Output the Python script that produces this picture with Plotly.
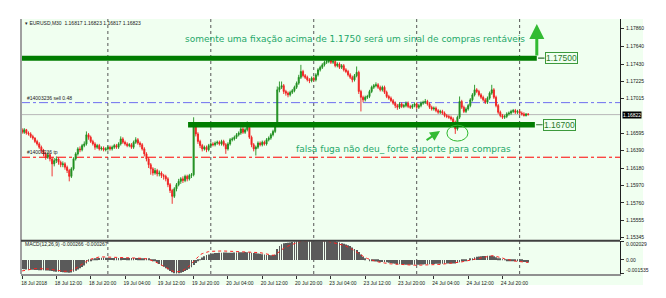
import plotly.graph_objects as go

# ---------------- data ----------------
date_labels = ['18 Jul 2018', '18 Jul 12:00', '18 Jul 20:00', '19 Jul 04:00', '19 Jul 12:00',
               '19 Jul 20:00', '20 Jul 04:00', '20 Jul 12:00', '20 Jul 20:00', '23 Jul 04:00',
               '23 Jul 12:00', '23 Jul 20:00', '24 Jul 04:00', '24 Jul 12:00', '24 Jul 20:00']
label_bars = [0, 16, 32, 48, 64, 80, 96, 112, 128, 144, 160, 176, 192, 208, 224]
day_start_bars = [40, 88, 136, 184, 232]

price_ticks = [1.17860, 1.17640, 1.17430, 1.17225, 1.17015, 1.16595, 1.16390,
               1.16180, 1.15970, 1.15760, 1.15555, 1.15345]

opens = [
1.1664,1.1661,1.1664,1.1660,1.1659,1.1656,1.1654,1.1650,1.1647,1.1643,
1.1639,1.1635,1.1631,1.1634,1.1629,1.1623,1.1627,1.1629,1.1625,1.1622,
1.1623,1.1619,1.1615,1.1608,1.1617,1.1629,1.1635,1.1641,1.1640,1.1645,
1.1647,1.1658,1.1655,1.1650,1.1647,1.1643,1.1645,1.1641,1.1642,1.1640,
1.1641,1.1643,1.1641,1.1643,1.1645,1.1643,1.1647,1.1653,1.1649,1.1647,
1.1645,1.1646,1.1643,1.1649,1.1652,1.1648,1.1646,1.1641,1.1635,1.1629,
1.1622,1.1617,1.1612,1.1615,1.1611,1.1612,1.1609,1.1608,1.1605,1.1598,
1.1591,1.1584,1.1593,1.1598,1.1602,1.1605,1.1603,1.1608,1.1605,1.1609,
1.1610,1.1670,1.1659,1.1650,1.1645,1.1641,1.1643,1.1640,1.1645,1.1647,
1.1646,1.1648,1.1649,1.1647,1.1650,1.1646,1.1641,1.1647,1.1652,1.1653,
1.1655,1.1658,1.1660,1.1665,1.1661,1.1664,1.1667,1.1655,1.1646,1.1641,
1.1643,1.1648,1.1646,1.1649,1.1647,1.1652,1.1654,1.1658,1.1662,1.1670,
1.1712,1.1715,1.1717,1.1710,1.1708,1.1706,1.1709,1.1711,1.1715,1.1720,
1.1727,1.1734,1.1729,1.1727,1.1724,1.1723,1.1726,1.1724,1.1730,1.1736,
1.1739,1.1742,1.1745,1.1746,1.1748,1.1745,1.1746,1.1741,1.1743,1.1739,
1.1741,1.1736,1.1734,1.1730,1.1727,1.1724,1.1729,1.1733,1.1710,1.1703,
1.1700,1.1703,1.1704,1.1710,1.1715,1.1717,1.1718,1.1715,1.1712,1.1715,
1.1709,1.1704,1.1702,1.1699,1.1696,1.1693,1.1691,1.1695,1.1692,1.1693,
1.1696,1.1692,1.1691,1.1693,1.1695,1.1691,1.1693,1.1696,1.1697,1.1698,
1.1695,1.1691,1.1689,1.1690,1.1687,1.1685,1.1686,1.1684,1.1681,1.1680,
1.1679,1.1677,1.1673,1.1665,1.1679,1.1698,1.1691,1.1686,1.1689,1.1693,
1.1700,1.1706,1.1712,1.1710,1.1706,1.1703,1.1700,1.1697,1.1702,1.1708,
1.1712,1.1703,1.1693,1.1685,1.1681,1.1679,1.1680,1.1683,1.1684,1.1686,
1.1687,1.1685,1.1686,1.1684,1.1683,1.1681,1.1683]

highs = [
1.1666,1.1666,1.1665,1.1662,1.1661,1.1658,1.1655,1.1652,1.1649,1.1645,
1.1641,1.1637,1.1637,1.1636,1.1631,1.1630,1.1632,1.1631,1.1627,1.1626,
1.1625,1.1621,1.1617,1.1619,1.1631,1.1637,1.1643,1.1644,1.1647,1.1650,
1.1662,1.1660,1.1657,1.1652,1.1649,1.1647,1.1647,1.1644,1.1644,1.1643,
1.1645,1.1645,1.1645,1.1647,1.1647,1.1649,1.1656,1.1655,1.1651,1.1649,
1.1648,1.1648,1.1651,1.1655,1.1654,1.1650,1.1648,1.1643,1.1637,1.1631,
1.1624,1.1619,1.1618,1.1617,1.1615,1.1614,1.1611,1.1610,1.1607,1.1600,
1.1593,1.1595,1.1600,1.1605,1.1607,1.1608,1.1610,1.1610,1.1611,1.1612,
1.1679,1.1673,1.1661,1.1652,1.1647,1.1645,1.1645,1.1647,1.1649,1.1649,
1.1650,1.1651,1.1651,1.1652,1.1652,1.1648,1.1649,1.1654,1.1655,1.1657,
1.1660,1.1662,1.1667,1.1667,1.1666,1.1674,1.1669,1.1657,1.1648,1.1645,
1.1650,1.1650,1.1651,1.1651,1.1654,1.1656,1.1660,1.1664,1.1672,1.1716,
1.1722,1.1722,1.1719,1.1712,1.1710,1.1711,1.1713,1.1717,1.1722,1.1730,
1.1742,1.1736,1.1731,1.1729,1.1726,1.1728,1.1728,1.1732,1.1738,1.1741,
1.1744,1.1747,1.1749,1.1752,1.1750,1.1748,1.1748,1.1745,1.1745,1.1743,
1.1743,1.1738,1.1736,1.1732,1.1729,1.1731,1.1740,1.1735,1.1712,1.1705,
1.1705,1.1706,1.1712,1.1717,1.1719,1.1721,1.1720,1.1717,1.1717,1.1717,
1.1711,1.1706,1.1704,1.1701,1.1698,1.1695,1.1697,1.1697,1.1695,1.1698,
1.1698,1.1694,1.1695,1.1697,1.1697,1.1695,1.1698,1.1699,1.1701,1.1700,
1.1697,1.1693,1.1692,1.1692,1.1689,1.1688,1.1688,1.1686,1.1683,1.1682,
1.1681,1.1679,1.1675,1.1681,1.1704,1.1700,1.1693,1.1691,1.1695,1.1702,
1.1708,1.1718,1.1714,1.1712,1.1708,1.1705,1.1702,1.1704,1.1710,1.1718,
1.1714,1.1705,1.1695,1.1687,1.1683,1.1682,1.1685,1.1686,1.1688,1.1689,
1.1689,1.1688,1.1688,1.1686,1.1685,1.1684,1.1684]

lows = [
1.1659,1.1659,1.1658,1.1657,1.1654,1.1652,1.1648,1.1645,1.1641,1.1636,
1.1632,1.1628,1.1629,1.1626,1.1608,1.1620,1.1624,1.1622,1.1619,1.1619,
1.1616,1.1612,1.1602,1.1606,1.1615,1.1627,1.1633,1.1637,1.1638,1.1643,
1.1645,1.1652,1.1648,1.1645,1.1640,1.1641,1.1639,1.1639,1.1638,1.1638,
1.1639,1.1639,1.1639,1.1641,1.1641,1.1641,1.1645,1.1647,1.1645,1.1643,
1.1643,1.1641,1.1641,1.1647,1.1646,1.1643,1.1639,1.1632,1.1626,1.1618,
1.1610,1.1609,1.1610,1.1608,1.1608,1.1606,1.1604,1.1602,1.1595,1.1588,
1.1575,1.1582,1.1590,1.1596,1.1599,1.1600,1.1601,1.1602,1.1603,1.1606,
1.1608,1.1656,1.1647,1.1642,1.1638,1.1639,1.1637,1.1638,1.1643,1.1644,
1.1644,1.1646,1.1645,1.1645,1.1644,1.1635,1.1639,1.1645,1.1650,1.1651,
1.1653,1.1656,1.1658,1.1659,1.1659,1.1662,1.1653,1.1643,1.1638,1.1633,
1.1641,1.1644,1.1644,1.1645,1.1645,1.1650,1.1652,1.1656,1.1660,1.1668,
1.1709,1.1713,1.1707,1.1705,1.1703,1.1704,1.1707,1.1709,1.1713,1.1718,
1.1725,1.1727,1.1725,1.1722,1.1720,1.1721,1.1722,1.1722,1.1728,1.1734,
1.1737,1.1740,1.1743,1.1744,1.1743,1.1743,1.1739,1.1739,1.1737,1.1737,
1.1734,1.1732,1.1728,1.1725,1.1721,1.1722,1.1727,1.1707,1.1686,1.1697,
1.1698,1.1701,1.1702,1.1708,1.1713,1.1715,1.1713,1.1710,1.1710,1.1707,
1.1702,1.1700,1.1697,1.1694,1.1690,1.1688,1.1689,1.1690,1.1690,1.1691,
1.1690,1.1689,1.1689,1.1691,1.1689,1.1689,1.1691,1.1694,1.1695,1.1693,
1.1689,1.1687,1.1687,1.1685,1.1683,1.1683,1.1682,1.1679,1.1678,1.1677,
1.1675,1.1671,1.1659,1.1663,1.1677,1.1689,1.1684,1.1684,1.1687,1.1691,
1.1698,1.1704,1.1708,1.1704,1.1701,1.1698,1.1695,1.1695,1.1700,1.1706,
1.1701,1.1691,1.1683,1.1679,1.1677,1.1677,1.1678,1.1681,1.1682,1.1684,
1.1683,1.1683,1.1682,1.1681,1.1680,1.1680,1.1681]

closes = [
1.1661,1.1664,1.1660,1.1659,1.1656,1.1654,1.1650,1.1647,1.1643,1.1639,
1.1635,1.1631,1.1634,1.1629,1.1623,1.1627,1.1629,1.1625,1.1622,1.1623,
1.1619,1.1615,1.1608,1.1617,1.1629,1.1635,1.1641,1.1640,1.1645,1.1647,
1.1658,1.1655,1.1650,1.1647,1.1643,1.1645,1.1641,1.1642,1.1640,1.1641,
1.1643,1.1641,1.1643,1.1645,1.1643,1.1647,1.1653,1.1649,1.1647,1.1645,
1.1646,1.1643,1.1649,1.1652,1.1648,1.1646,1.1641,1.1635,1.1629,1.1622,
1.1617,1.1612,1.1615,1.1611,1.1612,1.1609,1.1608,1.1605,1.1598,1.1591,
1.1584,1.1593,1.1598,1.1602,1.1605,1.1603,1.1608,1.1605,1.1609,1.1610,
1.1670,1.1659,1.1650,1.1645,1.1641,1.1643,1.1640,1.1645,1.1647,1.1646,
1.1648,1.1649,1.1647,1.1650,1.1646,1.1641,1.1647,1.1652,1.1653,1.1655,
1.1658,1.1660,1.1665,1.1661,1.1664,1.1667,1.1655,1.1646,1.1641,1.1643,
1.1648,1.1646,1.1649,1.1647,1.1652,1.1654,1.1658,1.1662,1.1670,1.1712,
1.1715,1.1717,1.1710,1.1708,1.1706,1.1709,1.1711,1.1715,1.1720,1.1727,
1.1734,1.1729,1.1727,1.1724,1.1723,1.1726,1.1724,1.1730,1.1736,1.1739,
1.1742,1.1745,1.1746,1.1748,1.1745,1.1746,1.1741,1.1743,1.1739,1.1741,
1.1736,1.1734,1.1730,1.1727,1.1724,1.1729,1.1733,1.1710,1.1703,1.1700,
1.1703,1.1704,1.1710,1.1715,1.1717,1.1718,1.1715,1.1712,1.1715,1.1709,
1.1704,1.1702,1.1699,1.1696,1.1693,1.1691,1.1695,1.1692,1.1693,1.1696,
1.1692,1.1691,1.1693,1.1695,1.1691,1.1693,1.1696,1.1697,1.1698,1.1695,
1.1691,1.1689,1.1690,1.1687,1.1685,1.1686,1.1684,1.1681,1.1680,1.1679,
1.1677,1.1673,1.1665,1.1679,1.1698,1.1691,1.1686,1.1689,1.1693,1.1700,
1.1706,1.1712,1.1710,1.1706,1.1703,1.1700,1.1697,1.1702,1.1708,1.1712,
1.1703,1.1693,1.1685,1.1681,1.1679,1.1680,1.1683,1.1684,1.1686,1.1687,
1.1685,1.1686,1.1684,1.1683,1.1681,1.1683,1.16823]

# MACD(12,26,9) main line and signal, in units of 1e-5
macd_main_e5 = [
-100,-102,-104,-105,-106,-108,-110,-110,-112,-113,-114,-115,-116,-118,
-122,-125,-128,-130,-132,-134,-136,-138,-140,-138,
-128,-118,-105,-92,-78,-60,-40,
-20,-5,5,12,18,22,24,25,
24,23,22,22,21,21,20,21,22,22,21,20,20,21,22,21,20,18,16,13,10,
5,-5,-15,-30,
-45,-60,-75,-90,-105,-120,-135,-145,-148,-145,-140,-132,-122,-110,
-95,-80,-55,-35,-15,5,
25,40,52,60,66,70,
74,76,78,79,80,80,79,78,79,80,81,82,83,84,85,84,82,78,74,72,70,66,62,58,
54,52,50,52,56,
120,150,170,180,
185,188,190,195,200,205,212,218,220,222,220,218,216,215,214,215,216,217,218,219,218,216,212,
205,198,190,182,175,168,
160,150,135,120,108,85,60,35,15,
0,-8,-12,-15,-18,-20,-22,-22,-24,-26,-30,-34,-38,-42,-46,
-48,-50,-51,-52,-53,-54,-54,-53,-52,-52,-51,
-50,-48,-47,-46,-45,-44,-43,-42,-42,-41,-41,-40,-40,-39,-38,
-40,-35,-25,-18,-12,-6,0,8,
18,28,34,38,40,42,43,44,45,44,40,30,18,
8,2,-2,-5,-8,-10,-12,-14,-16,-18,-20,-22,-24,-27]

macd_signal_e5 = [
-120,-115,-110,-105,-100,-96,
-95,-94,-94,-94,-95,-95,-96,
-100,-105,-110,-114,-118,-120,-122,-124,-125,
-122,-115,-105,-92,-78,-62,-46,-30,-15,
0,8,16,24,30,32,33,32,
30,28,26,24,22,21,20,20,20,20,20,20,20,20,20,20,19,18,16,
12,6,0,-10,-20,-32,-44,
-55,-70,-85,-100,-112,-122,-130,-130,-128,-125,
-115,-100,-85,-65,-40,-15,10,35,55,
68,78,85,90,93,95,96,97,97,97,97,96,96,95,95,95,
94,93,92,91,90,89,89,88,88,86,83,79,74,68,62,56,50,
50,55,70,90,110,130,
140,150,160,170,180,190,195,200,203,206,209,211,213,215,
214,213,212,210,207,204,200,195,
190,184,178,172,166,158,150,140,128,115,100,85,66,47,
35,25,15,5,-3,-10,-17,-22,-27,-31,-35,-38,-41,-43,-45,-46,-47,
-48,-50,-52,-54,-55,-56,-57,-58,-58,-58,-58,-57,-56,-55,-54,-53,-52,-51,-50,
-49,-47,-45,-43,-41,-38,-35,-32,-30,
-26,-22,-17,-12,-7,-2,3,8,13,18,22,25,30,35,40,45,
44,40,34,27,20,12,5,0,-5,-9,-13,-17,-20,-22,-24,-26,-27]

resistance_level = 1.17500
support_level = 1.16700
sell_level = 1.16966
tp_level = 1.16310
bid_level = 1.16822
macd_axis_vals = [0.002029, 0.0, -0.001535]

n = len(closes)
assert len(opens) == n and len(highs) == n and len(lows) == n
assert len(macd_main_e5) == n and len(macd_signal_e5) == n
bars = list(range(n))
macd_main = [v * 1e-5 for v in macd_main_e5]
macd_signal = [v * 1e-5 for v in macd_signal_e5]

# ---------------- styling ----------------
BG = '#F0FFF0'
UP = '#1f8f1f'
DN = '#f02020'
LINE_GREEN = '#007d00'
TXT_GREEN = '#1fa86a'
ARROW_GREEN = '#33bb33'
FONT = 'Liberation Sans, Arial, sans-serif'

fig = go.Figure()
fig.add_trace(go.Candlestick(
    x=bars, open=opens, high=highs, low=lows, close=closes,
    xaxis='x', yaxis='y', whiskerwidth=0,
    increasing=dict(line=dict(color=UP, width=0.9), fillcolor=UP),
    decreasing=dict(line=dict(color=DN, width=0.9), fillcolor=DN),
    hoverinfo='skip', showlegend=False))
fig.add_trace(go.Bar(
    x=bars, y=macd_main, xaxis='x2', yaxis='y2', width=0.38,
    marker=dict(color='#5a5a5a', line=dict(width=0)), showlegend=False, hoverinfo='skip'))
fig.add_trace(go.Scatter(
    x=bars, y=macd_signal, xaxis='x2', yaxis='y2', mode='lines',
    line=dict(color='#ff2020', width=1, dash='dot'), showlegend=False, hoverinfo='skip'))

XR = [-0.5, 278.8]
MAIN_BOTTOM = 0.1323
MACD_TOP = 0.1284

shapes = [
    # chart window background (incl. label strips)
    dict(type='rect', xref='paper', yref='paper', x0=-0.0017, x1=1.0384, y0=-0.0428, y1=1.0,
         fillcolor=BG, line=dict(width=0), layer='below'),
]
for b in day_start_bars:
    shapes.append(dict(type='line', xref='x', yref='paper', x0=b, x1=b, y0=0, y1=1,
                       line=dict(color='#555555', width=1, dash='dot'), layer='below'))
shapes += [
    dict(type='line', xref='paper', yref='y', x0=0, x1=1, y0=bid_level, y1=bid_level,
         line=dict(color='#b8b8b8', width=1), layer='below'),
    dict(type='line', xref='paper', yref='y', x0=0, x1=1, y0=sell_level, y1=sell_level,
         line=dict(color='#6e6ef0', width=1, dash='dashdot'), layer='below'),
    dict(type='line', xref='paper', yref='y', x0=0, x1=1, y0=tp_level, y1=tp_level,
         line=dict(color='#ff0000', width=1, dash='dashdot'), layer='below'),
    # key levels
    dict(type='line', xref='x', yref='y', x0=-0.5, x1=240, y0=resistance_level, y1=resistance_level,
         line=dict(color=LINE_GREEN, width=5)),
    dict(type='line', xref='x', yref='y', x0=77.4, x1=239.1, y0=support_level, y1=support_level,
         line=dict(color=LINE_GREEN, width=5.5)),
    dict(type='line', xref='x', yref='y', x0=240.6, x1=243.6, y0=resistance_level, y1=resistance_level,
         line=dict(color='#2f6f2f', width=1.2)),
    dict(type='line', xref='x', yref='y', x0=239.7, x1=242.7, y0=support_level, y1=support_level,
         line=dict(color='#2f6f2f', width=1.2)),
    # ellipse around false break
    dict(type='circle', xref='x', yref='y', x0=198.1, x1=207.9, y0=1.16504, y1=1.16695,
         line=dict(color='#2db82d', width=1)),
    # frame lines
    dict(type='line', xref='paper', yref='paper', x0=0, x1=0, y0=0, y1=1,
         line=dict(color='#a0a0a0', width=2)),
    dict(type='line', xref='paper', yref='paper', x0=0, x1=1, y0=MAIN_BOTTOM - 0.002, y1=MAIN_BOTTOM - 0.002,
         line=dict(color='#404040', width=2)),
]

small = dict(family=FONT, size=5, color='#202020')
annotations = [
    dict(xref='paper', yref='paper', x=0.004, y=0.985, xanchor='left', yanchor='middle',
         text='▾ EURUSD,M30  1.16817 1.16823 1.16817 1.16823', showarrow=False, font=small),
    dict(xref='paper', yref='y', x=0.007, y=sell_level, xanchor='left', yanchor='bottom',
         text='#14003236 sell 0.48', showarrow=False, font=small),
    dict(xref='paper', yref='y', x=0.007, y=tp_level, xanchor='left', yanchor='bottom',
         text='#14003236 tp', showarrow=False, font=small),
    dict(xref='paper', yref='paper', x=0.004, y=0.117, xanchor='left', yanchor='middle',
         text='MACD(12,26,9) -0.000266 -0.000267', showarrow=False, font=small),
    dict(xref='paper', yref='paper', x=0.5576, y=0.922, xanchor='center', yanchor='middle',
         text='somente uma fixação acima de 1.1750 será um sinal de compras rentáveis',
         showarrow=False, font=dict(family='DejaVu Sans', size=9, color=TXT_GREEN)),
    dict(xref='paper', yref='paper', x=0.639, y=0.490, xanchor='center', yanchor='middle',
         text='falsa fuga não deu_ forte suporte para compras',
         showarrow=False, font=dict(family='DejaVu Sans', size=9, color=TXT_GREEN)),
    # price labels on key levels
    dict(xref='x', yref='y', x=243.6, y=resistance_level, xanchor='left', yanchor='middle',
         text='1.17500', showarrow=False, font=dict(family=FONT, size=8.5, color='#2a7a2a'),
         bordercolor='#3c9a3c', borderwidth=1, borderpad=0, bgcolor=BG),
    dict(xref='x', yref='y', x=242.7, y=support_level, xanchor='left', yanchor='middle',
         text='1.16700', showarrow=False, font=dict(family=FONT, size=8.5, color='#2a7a2a'),
         bordercolor='#3c9a3c', borderwidth=1, borderpad=0, bgcolor=BG),
    # current price tag
    dict(xref='paper', yref='y', x=1.003, y=bid_level, xanchor='left', yanchor='middle',
         text='1.16822', showarrow=False, font=dict(family=FONT, size=5, color='white'),
         bgcolor='black', borderpad=0),
    # arrows
    dict(xref='x', yref='y', x=240, y=1.17911, ax=0, ay=33, text='', showarrow=True,
         arrowhead=2, arrowsize=1.0, arrowwidth=3, arrowcolor=ARROW_GREEN),
    dict(xref='x', yref='y', x=194.9, y=1.16624, ax=-15, ay=10, text='', showarrow=True,
         arrowhead=2, arrowsize=1, arrowwidth=2, arrowcolor=ARROW_GREEN),
]
# MACD scale labels
for v, ya in zip(macd_axis_vals, [0.117, 0.0545, 0.0156]):
    txt = '0.00' if v == 0 else ('%.6f' % v)
    annotations.append(dict(xref='paper', yref='paper', x=1.006, y=ya, xanchor='left', yanchor='middle',
                            text=txt, showarrow=False, font=small))

fig.update_layout(
    width=666, height=298,
    margin=dict(l=21, r=46, t=19, b=22),
    paper_bgcolor='white', plot_bgcolor='rgba(0,0,0,0)',
    showlegend=False,
    xaxis=dict(domain=[0, 1], range=XR, anchor='y', showticklabels=False, showgrid=False,
               zeroline=False, rangeslider=dict(visible=False), showline=False, fixedrange=True),
    xaxis2=dict(domain=[0, 1], range=XR, anchor='y2', matches='x', showgrid=False, zeroline=False,
                tickmode='array', tickvals=label_bars, ticktext=date_labels,
                tickfont=dict(family=FONT, size=5, color='#202020'), ticks='outside', ticklen=3,
                tickcolor='#303030', showline=True, linecolor='#909090', linewidth=2,
                ticklabelshift=12, ticklabelstandoff=0),
    yaxis=dict(domain=[MAIN_BOTTOM, 1], range=[1.15312, 1.17971], anchor='x', side='right',
               showgrid=False, zeroline=False, tickmode='array', tickvals=price_ticks,
               ticktext=['%.5f' % v for v in price_ticks],
               tickfont=dict(family=FONT, size=5, color='#202020'), ticks='outside', ticklen=3,
               tickcolor='#303030', showline=True, linecolor='#202020', linewidth=1,
               ticklabelstandoff=1),
    yaxis2=dict(domain=[0, MACD_TOP], range=[-0.001535, 0.002029], anchor='x2', side='right',
                showgrid=False, zeroline=False, showticklabels=False, tickmode='array',
                tickvals=macd_axis_vals, ticks='outside', ticklen=3, tickcolor='#303030',
                showline=True, linecolor='#202020', linewidth=1),
    shapes=shapes,
    annotations=annotations,
)

fig.write_html('out.html')
